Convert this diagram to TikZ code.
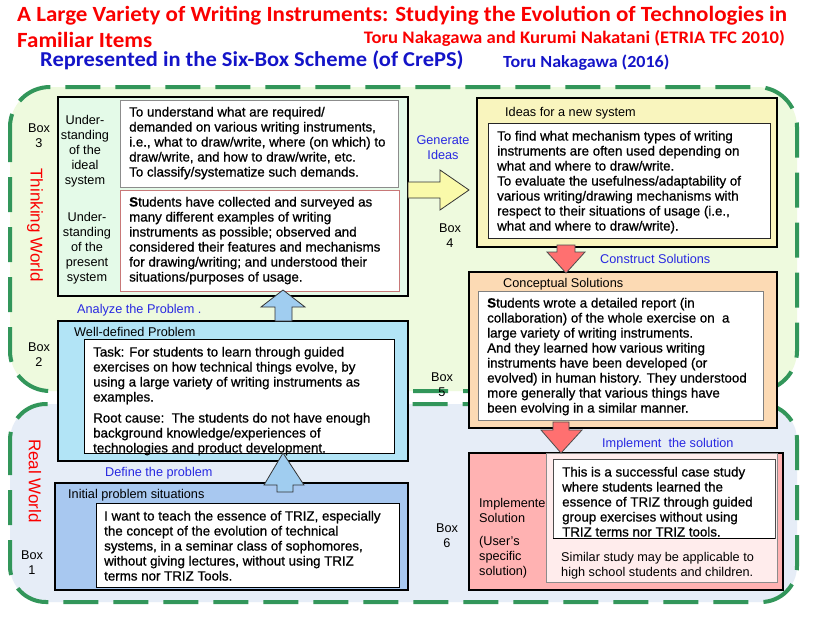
\documentclass[tikz,border=0pt]{standalone}
\usepackage{fontspec}
\setmainfont{Liberation Sans}
\newfontfamily\titlefont[FakeStretch=1.06]{Carlito}
\newfontfamily\bodyfamily[FakeBold=0.8]{Liberation Sans}
\definecolor{dashgreen}{RGB}{50,150,90}
\definecolor{thinkfill}{RGB}{238,250,222}
\definecolor{realfill}{RGB}{230,237,247}
\definecolor{boxthree}{RGB}{228,250,232}
\definecolor{boxfour}{RGB}{249,245,190}
\definecolor{boxfive}{RGB}{252,218,180}
\definecolor{boxsix}{RGB}{255,178,178}
\definecolor{boxsixpanel}{RGB}{255,236,236}
\definecolor{boxtwo}{RGB}{178,228,246}
\definecolor{boxone}{RGB}{168,200,240}
\definecolor{arrowblue}{RGB}{160,205,240}
\definecolor{arrowyellow}{RGB}{250,250,170}
\definecolor{arrowred}{RGB}{255,112,112}
\definecolor{linkblue}{RGB}{40,40,225}
\definecolor{headblue}{RGB}{20,20,200}
\definecolor{titlered}{RGB}{250,0,0}
\newcommand{\mylines}[1]{\begin{tabular}[t]{@{}l@{}}#1\end{tabular}}
\newcommand{\mylinesc}[1]{\begin{tabular}[t]{@{}c@{}}#1\end{tabular}}
\newcommand{\bodyfs}{\bodyfamily\fontsize{13.33}{15}\selectfont}
\newcommand{\labfs}{\fontsize{12.7}{15}\selectfont}
\begin{document}
\begin{tikzpicture}[x=1pt,y=-1pt,
  region/.style={draw=dashgreen, line width=4pt, dash pattern=on 35pt off 15pt},
  boxframe/.style={draw=black, line width=1.6pt, anchor=north west, inner sep=0pt, outer sep=0pt},
  inbox/.style={fill=white, line width=0.9pt, anchor=north west, inner sep=0pt, outer sep=0pt},
  body/.style={anchor=base west, inner sep=0pt, font=\bodyfs},
  lab/.style={inner sep=0pt, font=\labfs},
  link/.style={inner sep=0pt, font=\labfs, text=linkblue, anchor=base west},
  world/.style={inner sep=0pt, font=\fontsize{17}{20}\selectfont, text=titlered, rotate=-90},
  barrow/.style={draw=black!80, line width=0.8pt, fill=arrowblue},
  yarrow/.style={draw=black!80, line width=0.8pt, fill=arrowyellow},
  rarrow/.style={draw=black!70, line width=0.8pt, fill=arrowred}
]
\useasboundingbox (0,0) rectangle (818,622);
\fill[white] (0,0) rectangle (818,622);

% titles
\node[anchor=base west, inner sep=0pt, text=titlered, font=\titlefont\bfseries\fontsize{21.7}{24}\selectfont] (title1) at (17,21) {A Large Variety of Writing Instruments: Studying the Evolution of Technologies in};
\node[anchor=base west, inner sep=0pt, text=titlered, font=\titlefont\bfseries\fontsize{21.7}{24}\selectfont] (title2) at (17,47.5) {Familiar Items};
\node[anchor=base east, inner sep=0pt, text=titlered, font=\titlefont\bfseries\fontsize{17.6}{20}\selectfont] (auth1) at (785,43) {Toru Nakagawa and Kurumi Nakatani (ETRIA TFC 2010)};
\node[anchor=base west, inner sep=0pt, text=headblue, font=\titlefont\bfseries\fontsize{21.2}{24}\selectfont] (sub) at (40,66.5) {Represented in the Six-Box Scheme (of CrePS)};
\node[anchor=base west, inner sep=0pt, text=headblue, font=\titlefont\bfseries\fontsize{17}{20}\selectfont] (auth2) at (503,67.5) {Toru Nakagawa (2016)};

% world regions
\path[region, fill=thinkfill, rounded corners=40pt] (10,87) rectangle (797,391);
\path[region, fill=realfill, rounded corners=36pt] (10,404) rectangle (797,602);

\node[world] (thinkw) at (35,225) {Thinking World};
\node[world] (realw) at (35,481) {Real World};

% Box 3
\node[boxframe, fill=boxthree, minimum width=350pt, minimum height=199pt] (box3) at (58,97) {};
\node[inbox, draw=black!45, minimum width=278pt, minimum height=87pt] (box3a) at (120,100) {};
\node[inbox, draw={rgb,255:red,200;green,120;blue,120}, minimum width=279pt, minimum height=101pt] (box3b) at (120,190) {};
\node[lab, anchor=base] (ideal) at (85,124.5) {\mylinesc{Under-\\standing\\of the\\ideal\\system}};
\node[lab, anchor=base] (present) at (87,221.5) {\mylinesc{Under-\\standing\\of the\\present\\system}};
\node[body] (t3a) at (129,116.5) {\mylines{To understand what are required/\\demanded on various writing instruments,\\i.e., what to draw/write, where (on which) to\\draw/write, and how to draw/write, etc.\\To classify/systematize such demands.}};
\node[body] (t3b) at (129,206.5) {\mylines{{\bfseries S}tudents have collected and surveyed as\\many different examples of writing\\instruments as possible; observed and\\considered their features and mechanisms\\for drawing/writing; and understood their\\situations/purposes of usage.}};

% Box 4
\node[boxframe, fill=boxfour, minimum width=300pt, minimum height=149pt] (box4) at (477,98) {};
\node[inbox, draw=black!85, minimum width=282pt, minimum height=115pt] (box4a) at (488,123) {};
\node[lab, anchor=base west] (h4) at (505,116.5) {Ideas for a new system};
\node[body] (t4) at (497,140.5) {\mylines{To find what mechanism types of writing\\instruments are often used depending on\\what and where to draw/write.\\To evaluate the usefulness/adaptability of\\various writing/drawing mechanisms with\\respect to their situations of usage (i.e.,\\what and where to draw/write).}};

% Box 5
\node[boxframe, fill=boxfive, minimum width=308pt, minimum height=156pt] (box5) at (469,272) {};
\node[inbox, draw=black!50, minimum width=285pt, minimum height=129pt] (box5a) at (478,291) {};
\node[lab, anchor=base west] (h5) at (503,287.5) {Conceptual Solutions};
\node[body] (t5) at (487,307.5) {\mylines{{\bfseries S}tudents wrote a detailed report (in\\collaboration) of the whole exercise on\ \ a\\large variety of writing instruments.\\And they learned how various writing\\instruments have been developed (or\\evolved) in human history. They understood\\more generally that various things have\\been evolving in a similar manner.}};

% Box 2
\node[boxframe, fill=boxtwo, minimum width=350pt, minimum height=140pt] (box2) at (58,321) {};
\node[inbox, draw=black, minimum width=310pt, minimum height=114pt] (box2a) at (84,339) {};
\node[lab, anchor=base west] (h2) at (74,336.5) {Well-defined Problem};
\node[body] (t2) at (93,356.5) {\mylines{Task: For students to learn through guided\\exercises on how technical things evolve, by\\using a large variety of writing instruments as\\examples.\\[6pt]Root cause:\ \ The students do not have enough\\background knowledge/experiences of\\technologies and product development.}};

% Box 1
\node[boxframe, fill=boxone, minimum width=353pt, minimum height=107pt] (box1) at (55,483) {};
\node[inbox, draw=black, minimum width=303pt, minimum height=84pt] (box1a) at (96,503) {};
\node[lab, anchor=base west] (h1) at (68,498.5) {Initial problem situations};
\node[body] (t1) at (104,520.5) {\mylines{I want to teach the essence of TRIZ, especially\\the concept of the evolution of technical\\systems, in a seminar class of sophomores,\\without giving lectures, without using TRIZ\\terms nor TRIZ Tools.}};

% Box 6
\node[boxframe, fill=boxsix, minimum width=314pt, minimum height=137pt] (box6) at (469,453) {};
\node[lab, anchor=base west] (h6a) at (479,507.5) {\mylines{Implemented\\Solution\\[8pt](User's\\specific\\solution)}};
\node[inbox, fill=boxsixpanel, draw=black!45, minimum width=231pt, minimum height=129pt] (box6p) at (546,453) {};
\node[inbox, draw=black!70, minimum width=222pt, minimum height=79pt] (box6a) at (553,459) {};
\node[body] (t6) at (562,476.5) {\mylines{This is a successful case study\\where students learned the\\essence of TRIZ through guided\\group exercises without using\\TRIZ terms nor TRIZ tools.}};
\draw[black, line width=1pt] (box6a.south west) -- (box6a.south east);
\node[lab, anchor=base west] (t6b) at (561,561.5) {\mylines{Similar study may be applicable to\\high school students and children.}};

% box labels
\node[lab, anchor=base] (b3) at (39,132.5) {\mylinesc{Box\\3}};
\node[lab, anchor=base] (b2) at (39,351.5) {\mylinesc{Box\\2}};
\node[lab, anchor=base] (b1) at (32,559.5) {\mylinesc{Box\\1}};
\node[lab, anchor=base] (b4) at (450,232.5) {\mylinesc{Box\\4}};
\node[lab, anchor=base] (b5) at (442,381.5) {\mylinesc{Box\\5}};
\node[lab, anchor=base] (b6) at (447,532.5) {\mylinesc{Box\\6}};

% block arrows
\draw[yarrow] (box3.east |- 0,182) -- (440,182) -- (440,170) -- (469,190) -- (440,210) -- (440,198) -- (box3.east |- 0,198) -- cycle;
\draw[rarrow] (557,245) -- (575,245) -- (575,252) -- (585,252) -- (566,273) -- (547,252) -- (557,252) -- cycle;
\draw[rarrow] (553,422) -- (569,422) -- (569,430) -- (582,430) -- (561,453) -- (541,430) -- (553,430) -- cycle;
\draw[barrow] (275,321) -- (275,307) -- (261,307) -- (283,290) -- (305,307) -- (292,307) -- (292,321) -- cycle;
\draw[barrow] (277,492) -- (277,485) -- (264,485) -- (283,453) -- (304,485) -- (293,485) -- (293,492) -- cycle;

% connector labels
\node[lab, anchor=base, text=linkblue] (gen) at (443,144.5) {\mylinesc{Generate\\Ideas}};
\node[link] (cons) at (600,263.5) {Construct Solutions};
\node[link] (impl) at (602,447.5) {Implement\ \ the solution};
\node[link] (anal) at (77,313.5) {Analyze the Problem .};
\node[link] (defp) at (105,476.5) {Define the problem};
\end{tikzpicture}
\end{document}
